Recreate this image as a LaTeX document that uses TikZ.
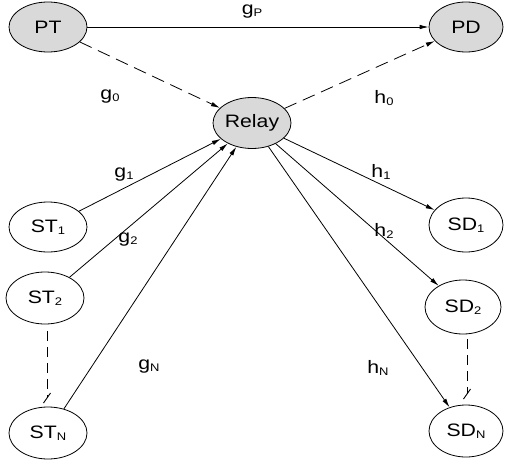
\documentclass[tikz,border=0pt]{standalone}
\usepackage{fontspec}
\setmainfont{Liberation Sans}[FakeStretch=1.18]
\usetikzlibrary{shapes.geometric,arrows.meta,calc}
\newcommand\lsub[1]{\raisebox{-0.15ex}{\fontsize{11}{11}\selectfont #1}}
\begin{document}
\begin{tikzpicture}[x=1pt,y=1pt,
  every node/.style={font=\fontsize{18}{18}\selectfont},
  nd/.style={ellipse,draw,line width=0.8pt,inner sep=0pt},
  gnd/.style={nd,fill=black!15},
  arr/.style={line width=0.8pt,-{Latex[length=9pt,width=4.5pt]}},
  dsh/.style={arr,dash pattern=on 13pt off 7pt},
  vd/.style={line width=0.9pt,dash pattern=on 10pt off 6pt},
  lbl/.style={inner sep=0pt}]
\useasboundingbox (0,0) rectangle (505,-460);
\node[gnd,minimum width=78,minimum height=50] (PT) at (48,-27) {PT};
\node[gnd,minimum width=74,minimum height=50] (PD) at (466,-27) {PD};
\node[gnd,minimum width=78,minimum height=51] (R) at (252,-123) {Relay};
\node[nd,minimum width=78,minimum height=50] (ST1) at (48,-227) {ST\lsub{1}};
\node[nd,minimum width=78,minimum height=52] (ST2) at (45,-298) {ST\lsub{2}};
\node[nd,minimum width=78,minimum height=52] (STN) at (48,-433) {ST\lsub{N}};
\node[nd,minimum width=74,minimum height=54] (SD1) at (466,-225) {SD\lsub{1}};
\node[nd,minimum width=76,minimum height=54] (SD2) at (463,-307) {SD\lsub{2}};
\node[nd,minimum width=74,minimum height=52] (SDN) at (466,-431) {SD\lsub{N}};
\draw[arr] (PT) -- (PD);
\draw[dsh] (PT) -- (R);
\draw[dsh] (R) -- (PD);
\draw[arr] (ST1) -- (R);
\draw[arr] (ST2) -- (R);
\draw[arr] (STN) -- (R);
\draw[arr] (R) -- (SD1);
\draw[arr] (R) -- (SD2);
\draw[arr] (R) -- (SDN);
\coordinate (t1) at (47,-398);
\coordinate (t2) at (467,-394);
\coordinate (s1) at (47,-331);
\coordinate (s2) at (467,-339);
\draw[vd] (s1) -- (t1);
\draw[vd] (s2) -- (t2);
\draw[line width=0.9pt] ($(t1)+(-3.5,-5)$) -- ($(t1)+(3.5,5)$);
\draw[line width=0.9pt] ($(t2)+(-3.5,-5)$) -- ($(t2)+(3.5,5)$);
\node[lbl] (lgp) at (252,-12) {g\lsub{P}};
\node[lbl] (lg0) at (110,-97) {g\lsub{0}};
\node[lbl] (lh0) at (384,-98) {h\lsub{0}};
\node[lbl] (lg1) at (124,-175) {g\lsub{1}};
\node[lbl] (lg2) at (128,-240) {g\lsub{2}};
\node[lbl] (lgN) at (149,-367) {g\lsub{N}};
\node[lbl] (lh1) at (381,-172) {h\lsub{1}};
\node[lbl] (lh2) at (384,-231) {h\lsub{2}};
\node[lbl] (lhN) at (378,-368) {h\lsub{N}};
\end{tikzpicture}
\end{document}
